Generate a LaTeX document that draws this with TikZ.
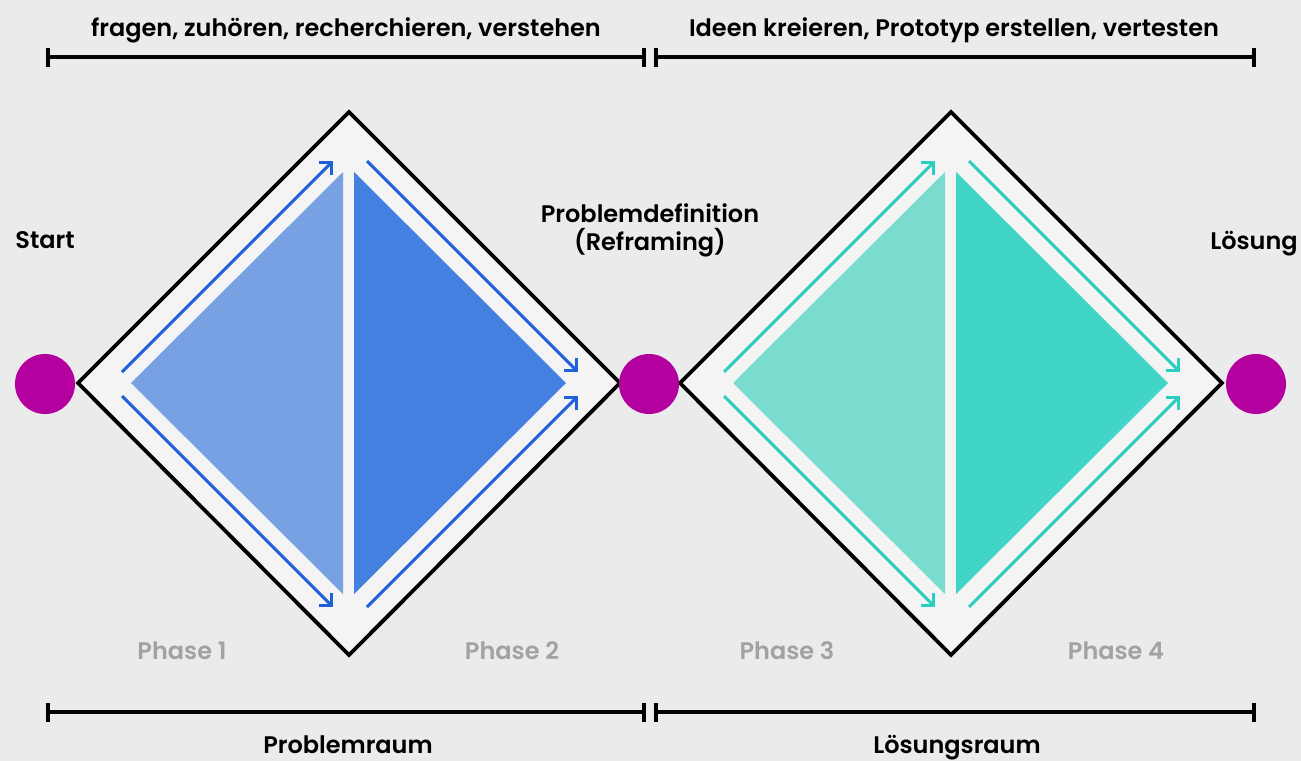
\documentclass[tikz,border=0pt]{standalone}
\usepackage{fontspec}
\setmainfont{Poppins}[BoldFont={* SemiBold}]
\usetikzlibrary{arrows.meta}
\definecolor{bgc}{HTML}{EBEBEB}
\definecolor{inner}{HTML}{F4F4F4}
\definecolor{mag}{HTML}{B3009F}
\definecolor{blueL}{HTML}{78A1E4}
\definecolor{blueD}{HTML}{4480E0}
\definecolor{blueA}{HTML}{1F62D8}
\definecolor{tealL}{HTML}{7ADCCF}
\definecolor{tealD}{HTML}{40D5C6}
\definecolor{tealA}{HTML}{2ACFBF}
\definecolor{phasec}{HTML}{A2A2A2}
\tikzset{
  lbl/.style={font=\bfseries\fontsize{24}{29}\selectfont, text=black, inner sep=0pt, anchor=base},
  phl/.style={font=\bfseries\fontsize{24}{29}\selectfont, text=phasec, inner sep=0pt, anchor=base},
  dia/.style={draw=black, line width=3.8pt, fill=inner, line join=miter},
  dot/.style={circle, fill=mag, minimum size=60pt, inner sep=0pt},
  flow/.style={line width=3pt, -{Straight Barb[length=9pt,width=18pt,line width=3pt]}},
  bar/.style={line width=3.8pt, {Bar[width=19pt,line width=3.8pt]}-{Bar[width=19pt,line width=3.8pt]}}
}
\begin{document}
\begin{tikzpicture}[x=1pt,y=-1pt]
\fill[bgc] (0,0) rectangle (1301,761);
\useasboundingbox (0,0) rectangle (1301,761);

% diamonds
\draw[dia] (78,383) -- (349,112) -- (620,383) -- (349,655) -- cycle;
\draw[dia] (680,383) -- (951,112) -- (1222,383) -- (951,655) -- cycle;

% triangles
\fill[blueL] (131,383) -- (343,172) -- (343,594) -- cycle;
\fill[blueD] (354,172) -- (566,383) -- (354,594) -- cycle;
\fill[tealL] (733,383) -- (945,172) -- (945,594) -- cycle;
\fill[tealD] (956,172) -- (1168,383) -- (956,594) -- cycle;

% arrows diamond 1
\coordinate (a1s) at (122,372); \coordinate (a1e) at (333,161);
\coordinate (a2s) at (367,161); \coordinate (a2e) at (578,372);
\coordinate (a3s) at (122,396); \coordinate (a3e) at (333,607);
\coordinate (a4s) at (367,607); \coordinate (a4e) at (578,396);
\draw[flow, blueA] (a1s) -- (a1e);
\draw[flow, blueA] (a2s) -- (a2e);
\draw[flow, blueA] (a3s) -- (a3e);
\draw[flow, blueA] (a4s) -- (a4e);
% arrows diamond 2
\coordinate (b1s) at (724,372); \coordinate (b1e) at (935,161);
\coordinate (b2s) at (969,161); \coordinate (b2e) at (1180,372);
\coordinate (b3s) at (724,396); \coordinate (b3e) at (935,607);
\coordinate (b4s) at (969,607); \coordinate (b4e) at (1180,396);
\draw[flow, tealA] (b1s) -- (b1e);
\draw[flow, tealA] (b2s) -- (b2e);
\draw[flow, tealA] (b3s) -- (b3e);
\draw[flow, tealA] (b4s) -- (b4e);

% dots
\node[dot] (start) at (45,384) {};
\node[dot] (mid) at (649,384) {};
\node[dot] (end) at (1256,384) {};

% bars
\coordinate (t1) at (46,57); \coordinate (t2) at (646,57);
\coordinate (t3) at (654,57); \coordinate (t4) at (1256,57);
\coordinate (u1) at (46,712); \coordinate (u2) at (646,712);
\coordinate (u3) at (654,712); \coordinate (u4) at (1256,712);
\draw[bar] (t1) -- (t2);
\draw[bar] (t3) -- (t4);
\draw[bar] (u1) -- (u2);
\draw[bar] (u3) -- (u4);

% labels
\node[lbl] (top1) at (346,36) {fragen, zuhören, recherchieren, verstehen};
\node[lbl] (top2) at (954,36) {Ideen kreieren, Prototyp erstellen, vertesten};
\node[lbl] (lstart) at (45,248) {Start};
\node[lbl] (lend) at (1254,249) {Lösung};
\node[lbl] (lmid1) at (650,222) {Problemdefinition};
\node[lbl] (lmid2) at (650,250) {(Reframing)};
\node[phl] (p1) at (182,659) {Phase 1};
\node[phl] (p2) at (512,659) {Phase 2};
\node[phl] (p3) at (787,659) {Phase 3};
\node[phl] (p4) at (1116,659) {Phase 4};
\node[lbl] (raum1) at (348,753) {Problemraum};
\node[lbl] (raum2) at (957,753) {Lösungsraum};
\end{tikzpicture}
\end{document}
